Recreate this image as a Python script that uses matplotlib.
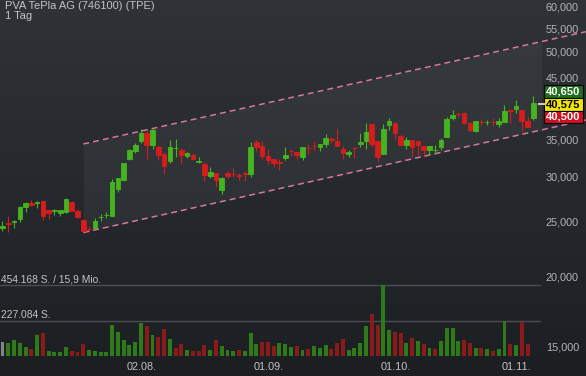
import numpy as np
import matplotlib
matplotlib.use("Agg")
import matplotlib.pyplot as plt
import matplotlib.transforms as mtransforms
from matplotlib.patches import Rectangle
from matplotlib.lines import Line2D
from matplotlib.ticker import FixedLocator, FuncFormatter, NullLocator

plt.rcParams['font.family'] = ['Liberation Sans', 'DejaVu Sans']
plt.rcParams['lines.scale_dashes'] = False

TITLE = 'PVA TePla AG (746100) (TPE)'
PERIOD = '1 Tag'

# daily candles, oldest first
opens = [24300, 24800, 24950, 25300, 26550, 27000, 26950, 27200, 26200, 26100,
         25900, 26000, 27100, 26100, 25200, 24250, 24350, 25450, 25650, 25600,
         28600, 29600, 32250, 33350, 34700, 35900, 34150, 33900, 32950, 32000,
         33700, 33450, 32650, 32800, 31900, 31600, 30150, 30450, 28450, 30500,
         30350, 30200, 30450, 30350, 34550, 34000, 32650, 32200, 31850, 32450,
         33350, 33200, 32550, 33800, 34050, 33900, 34300, 34950, 34700, 33550,
         32950, 33800, 34300, 34750, 37200, 34700, 32950, 37050, 37300, 35450,
         34150, 34850, 34700, 34000, 33450, 33450, 33900, 35350, 38100, 38750,
         38850, 37400, 36150, 37550, 37500, 37550, 37200, 37550, 39350, 39600,
         39400, 37700, 38200]
highs = [25050, 25550, 25150, 26600, 27050, 27300, 27200, 27250, 26250, 26300,
         26250, 27550, 27150, 26300, 25250, 24550, 25350, 25800, 25950, 29700,
         29850, 31750, 33600, 34400, 36400, 36150, 36600, 34100, 33250, 34800,
         34950, 33700, 33150, 33000, 32500, 31900, 31200, 30500, 30000, 30750,
         31050, 30450, 30700, 34550, 34850, 34750, 33650, 32250, 32300, 33850,
         33550, 33250, 33950, 34250, 34700, 34350, 35750, 35350, 36400, 34000,
         33450, 33900, 35850, 37400, 37250, 34750, 37200, 38100, 37550, 35750,
         35250, 34900, 34750, 34050, 34050, 34150, 35200, 38250, 39400, 39150,
         39150, 37450, 37750, 37950, 37850, 38100, 38100, 40200, 39400, 41050,
         39450, 38250, 41700]
lows = [24000, 23950, 24350, 24900, 26000, 26650, 26400, 25200, 25300, 25650,
        25550, 25850, 26050, 25350, 23950, 23950, 24300, 25000, 25350, 25550,
        28250, 29500, 32150, 33100, 34400, 32200, 33550, 32150, 30300, 31700,
        32550, 31700, 32350, 32200, 31700, 29500, 29800, 28800, 27950, 29800,
        29950, 29600, 29500, 29950, 33350, 32200, 31600, 31200, 30850, 32150,
        32650, 32200, 32150, 32900, 33450, 33350, 33900, 34500, 34000, 32200,
        32550, 32350, 33900, 33650, 33900, 32050, 32900, 36300, 34950, 34100,
        33550, 32550, 32800, 32550, 32800, 32950, 33450, 35250, 37850, 38350,
        37150, 36000, 36000, 37050, 37050, 36950, 36800, 37500, 37400, 38900,
        36200, 36750, 37850]
closes = [24550, 24750, 25000, 26550, 27000, 26700, 27050, 25600, 25900, 26150,
          26200, 27400, 26100, 25500, 24050, 24200, 25050, 25500, 25700, 29400,
          29800, 31700, 33450, 34150, 35900, 34150, 36300, 32850, 31400, 33900,
          33750, 32800, 33100, 32250, 31950, 30200, 30650, 29600, 29900, 30150,
          30300, 30150, 30400, 33850, 33900, 32650, 32150, 31750, 31800, 32800,
          33300, 32750, 33900, 33750, 34000, 34300, 35150, 34900, 34050, 33100,
          33250, 33750, 34600, 36000, 34300, 32550, 36400, 37700, 35900, 34150,
          34850, 33900, 34150, 33450, 34000, 33500, 34850, 38000, 38600, 38700,
          37400, 36300, 37700, 37500, 37550, 37500, 37700, 39250, 39200, 40050,
          37700, 36800, 40575]
volumes = [90000, 81500, 105000, 84000, 56000, 43000, 135000, 144000, 34000, 24000,
           26000, 56000, 30000, 26000, 79000, 39000, 30000, 26000, 24000, 199000,
           152000, 105000, 69000, 90000, 210000, 195000, 137000, 122000, 174000, 107000,
           54000, 79000, 41000, 30000, 30000, 69000, 39000, 101000, 64000, 39000,
           30000, 39000, 30000, 144000, 75000, 92000, 92000, 66000, 81000, 77000,
           56000, 64000, 39000, 43000, 62000, 49000, 73000, 43000, 81000, 111000,
           36000, 49000, 86000, 191000, 268000, 199000, 454168, 167000, 156000, 144000,
           86000, 118000, 94000, 77000, 54000, 43000, 94000, 178000, 182000, 94000,
           105000, 81000, 49000, 49000, 43000, 30000, 43000, 221000, 75000, 73000,
           217000, 75000, 0]

date_labels = ['02.08.', '01.09.', '01.10.', '01.11.']
date_pos = [24.2, 46.2, 68.2, 89.1]
price_ticks = [15000, 20000, 25000, 30000, 35000, 45000, 50000, 55000, 60000]

# trend channel: (candle index, upper, lower)
channel_start = (14, 34300, 23900)
channel_end = (101.1, 54250, 37830)

vol_max = 454168
vol_max_text = '454.168 S. / 15,9 Mio.'
vol_half_text = '227.084 S.'

quote_high, quote_last, quote_low = 40650, 40575, 40500

# --- styling
W, H = 586, 376
GREEN, RED = '#45b51f', '#d81c1c'
VGREEN, VRED, VGRAY = '#2e7a19', '#8b1b1b', '#858585'
TXT = '#c2c2c2'

fig = plt.figure(figsize=(W / 100, H / 100), dpi=100)

bg = fig.add_axes([0, 0, 1, 1])
t = np.linspace(0, 1, 256)[:, None, None]
top = np.array([47, 51, 56]) / 255
bot = np.array([28, 31, 34]) / 255
bg.imshow(top * (1 - t) + bot * t, aspect='auto', extent=[0, 1, 0, 1])
bg.set_axis_off()

xlim = (-0.433, 93.33)
plot_w = 541 / W

ax = fig.add_axes([0, 0, plot_w, 1])
ax.set_facecolor('none')
ax.set_yscale('log')
ax.set_ylim(13306, 61739)
ax.set_xlim(*xlim)
for s in ax.spines.values():
    s.set_visible(False)
ax.yaxis.tick_right()
ax.yaxis.set_major_locator(FixedLocator(price_ticks))
ax.yaxis.set_major_formatter(FuncFormatter(lambda v, _: f'{v:,.0f}'))
ax.yaxis.set_minor_locator(NullLocator())
ax.tick_params(axis='y', length=0, pad=3.6, labelsize=7.8, colors='#b4b4b4')
ax.tick_params(axis='x', bottom=False, labelbottom=False)

x = np.arange(len(closes))
o = np.array(opens)
c = np.array(closes)
cols = [GREEN if cc >= oo else RED for oo, cc in zip(o, c)]

# channel
cx = [channel_start[0], channel_end[0]]
cu = [channel_start[1], channel_end[1]]
cl = [channel_start[2], channel_end[2]]
ax.fill_between(cx, cl, cu, color='white', alpha=0.045, lw=0, zorder=0)
for yy in (cu, cl):
    ax.plot(cx, yy, color='#d4789f', lw=1.1, dashes=(4.3, 2.9), clip_on=False, zorder=1)

ax.vlines(x, lows, highs, colors=cols, lw=0.8, zorder=2)
ax.bar(x, c - o, bottom=o, width=0.8, color=cols, edgecolor=cols, linewidth=0.6, zorder=3)

# quote boxes at the right
y_last = ax.transData.transform((0, quote_last))[1]
boxes = [(quote_high, '#1e6e1e', 'white', 17.5),
         (quote_last, '#f2e600', 'black', 4.9),
         (quote_low, '#d01020', 'white', -7.7)]
for val, fc, tc, off in boxes:
    y0 = y_last + off - 12.6
    fig.add_artist(Rectangle((544, y0), 39, 12.6, transform=None, fc=fc, ec='black', lw=0.8))
    fig.text(563.5, y0 + 6.3, f'{val:,}', transform=mtransforms.IdentityTransform(),
             ha='center', va='center', fontsize=8, fontweight='bold', color=tc)
fig.add_artist(Line2D([539, 544], [y_last - 1.3, y_last - 1.3], transform=None,
                      color='#c8c8c8', lw=1.5))

# volume pane
vax = fig.add_axes([0, 20 / H, plot_w, 96 / H])
vax.set_facecolor('none')
vax.set_xlim(*xlim)
vax.set_ylim(0, vol_max * 96 / 71)
for s in vax.spines.values():
    s.set_visible(False)
vax.set_yticks([])
vcols = [VGRAY] + [VGREEN if closes[i] >= closes[i - 1] else VRED for i in range(1, len(closes))]
vax.bar(x, volumes, width=0.68, color=vcols, zorder=2)
for lvl, txt in [(vol_max, vol_max_text), (vol_max / 2, vol_half_text)]:
    vax.axhline(lvl, color='#4a4e52', lw=1, zorder=1)
    vax.annotate(txt, xy=(0.001, lvl), xycoords=('axes fraction', 'data'),
                 xytext=(0, 1.6), textcoords='offset points', va='baseline', ha='left',
                 fontsize=7.4, color=TXT)
vax.set_xticks(date_pos, date_labels)
vax.tick_params(axis='x', length=0, pad=4.3, labelsize=7.8, colors=TXT)

fig.text(5 / W, 1 - 1 / H, TITLE, va='top', ha='left', fontsize=8, color=TXT)
fig.text(5 / W, 1 - 11 / H, PERIOD, va='top', ha='left', fontsize=8, color=TXT)

fig.savefig('out.png', dpi=100, facecolor='#1d2023')
